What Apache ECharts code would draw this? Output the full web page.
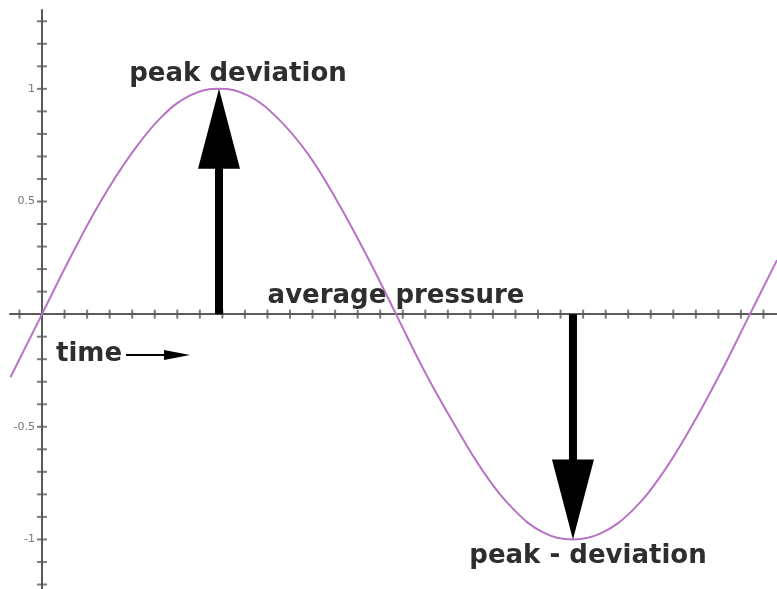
<!DOCTYPE html>
<html>
<head>
<meta charset="utf-8">
<script src="https://cdn.jsdelivr.net/npm/echarts@6/dist/echarts.min.js"></script>
<style>
  html, body { margin: 0; padding: 0; background: #fff; }
  #chart { width: 777px; height: 589px; }
</style>
</head>
<body>
<div id="chart"></div>
<script>
// sampled curve (time in radians, pressure deviation)
const curveX = [-0.28, 0, 0.26, 0.52, 0.79, 1.05, 1.31, 1.57, 1.83, 2.09, 2.36, 2.62, 2.88, 3.14,
  3.40, 3.67, 3.93, 4.19, 4.45, 4.71, 4.97, 5.24, 5.50, 5.76, 6.02, 6.28, 6.52];
const curveY = [-0.28, 0, 0.26, 0.5, 0.71, 0.87, 0.97, 1, 0.97, 0.87, 0.71, 0.5, 0.26, 0,
  -0.26, -0.5, -0.71, -0.87, -0.97, -1, -0.97, -0.87, -0.71, -0.5, -0.26, 0, 0.24];

// tick marks (they cross the axis on both sides)
const xTicks = [-0.2, 0.2, 0.4, 0.6, 0.8, 1.0, 1.2, 1.4, 1.6, 1.8, 2.0, 2.2, 2.4, 2.6, 2.8, 3.0,
  3.2, 3.4, 3.6, 3.8, 4.0, 4.2, 4.4, 4.6, 4.8, 5.0, 5.2, 5.4, 5.6, 5.8, 6.0, 6.2, 6.4];
const yTicks = [-1.2, -1.1, -1.0, -0.9, -0.8, -0.7, -0.6, -0.5, -0.4, -0.3, -0.2, -0.1,
  0.1, 0.2, 0.3, 0.4, 0.5, 0.6, 0.7, 0.8, 0.9, 1.0, 1.1, 1.2, 1.3];
const yLabels = [-1, -0.5, 0.5, 1];

// arrows: [time, from, to]
const arrows = [[1.57, 0, 1], [4.71, 0, -1]];

const axisColor = '#5a5a5a';
const textColor = '#2e2e2e';
const textFont = 'bold 26px "DejaVu Sans"';

let chart = echarts.init(document.getElementById('chart'), null, { renderer: 'canvas' });

let renderArrow = (params, api) => {
  let p0 = api.coord([api.value(0), api.value(1)]);
  let p1 = api.coord([api.value(0), api.value(2)]);
  let dir = p1[1] > p0[1] ? 1 : -1;
  let headLen = 80, headW = 21, shaftW = 4;
  let baseY = p1[1] - dir * headLen;
  let x = p0[0];
  return {
    type: 'polygon',
    shape: {
      points: [
        [x - shaftW, p0[1]], [x - shaftW, baseY], [x - headW, baseY], [x, p1[1]],
        [x + headW, baseY], [x + shaftW, baseY], [x + shaftW, p0[1]]
      ]
    },
    style: { fill: '#000' }
  };
};

let option = {
  animation: false,
  backgroundColor: '#fff',
  grid: { left: 10, right: 0, top: 10, bottom: 0, containLabel: false, outerBoundsMode: 'none' },
  xAxis: {
    type: 'value',
    min: -0.284,
    max: 6.52,
    axisLine: { onZero: true, lineStyle: { color: axisColor, width: 2 } },
    axisTick: { show: false },
    axisLabel: { show: false },
    splitLine: { show: false }
  },
  yAxis: {
    type: 'value',
    min: -1.22,
    max: 1.35,
    // x = 0 sits 32px right of the grid's left edge
    offset: -32,
    axisLine: { onZero: false, lineStyle: { color: axisColor, width: 2 } },
    axisTick: { show: false },
    axisLabel: {
      show: true,
      customValues: yLabels,
      color: '#777',
      fontSize: 11,
      fontFamily: 'DejaVu Sans',
      margin: 7,
      formatter: v => String(v)
    },
    splitLine: { show: false }
  },
  series: [
    {
      type: 'line',
      data: curveX.map((x, i) => [x, curveY[i]]),
      smooth: 0.4,
      showSymbol: false,
      lineStyle: { color: '#b874c4', width: 2 },
      z: 3
    },
    {
      type: 'scatter',
      data: xTicks.map(t => [t, 0]),
      symbol: 'rect',
      symbolSize: [2, 9],
      itemStyle: { color: axisColor },
      silent: true,
      z: 2
    },
    {
      type: 'scatter',
      data: yTicks.map(t => [0, t]),
      symbol: 'rect',
      symbolSize: [10, 2],
      itemStyle: { color: axisColor },
      silent: true,
      z: 2
    },
    {
      type: 'custom',
      data: arrows,
      renderItem: renderArrow,
      z: 4
    }
  ],
  graphic: [
    { type: 'text', x: 238, y: 74, style: { text: 'peak deviation', font: textFont, fill: textColor, align: 'center', verticalAlign: 'middle' }, z: 10 },
    { type: 'text', x: 396, y: 296, style: { text: 'average pressure', font: textFont, fill: textColor, align: 'center', verticalAlign: 'middle' }, z: 10 },
    { type: 'text', x: 588, y: 556, style: { text: 'peak - deviation', font: textFont, fill: textColor, align: 'center', verticalAlign: 'middle' }, z: 10 },
    { type: 'text', x: 56, y: 354, style: { text: 'time', font: textFont, fill: textColor, align: 'left', verticalAlign: 'middle' }, z: 10 },
    { type: 'line', shape: { x1: 126, y1: 355, x2: 170, y2: 355 }, style: { stroke: '#000', lineWidth: 2 }, z: 10 },
    { type: 'polygon', shape: { points: [[164, 350], [190, 355], [164, 360]] }, style: { fill: '#000' }, z: 10 }
  ]
};

chart.setOption(option);
</script>
</body>
</html>
